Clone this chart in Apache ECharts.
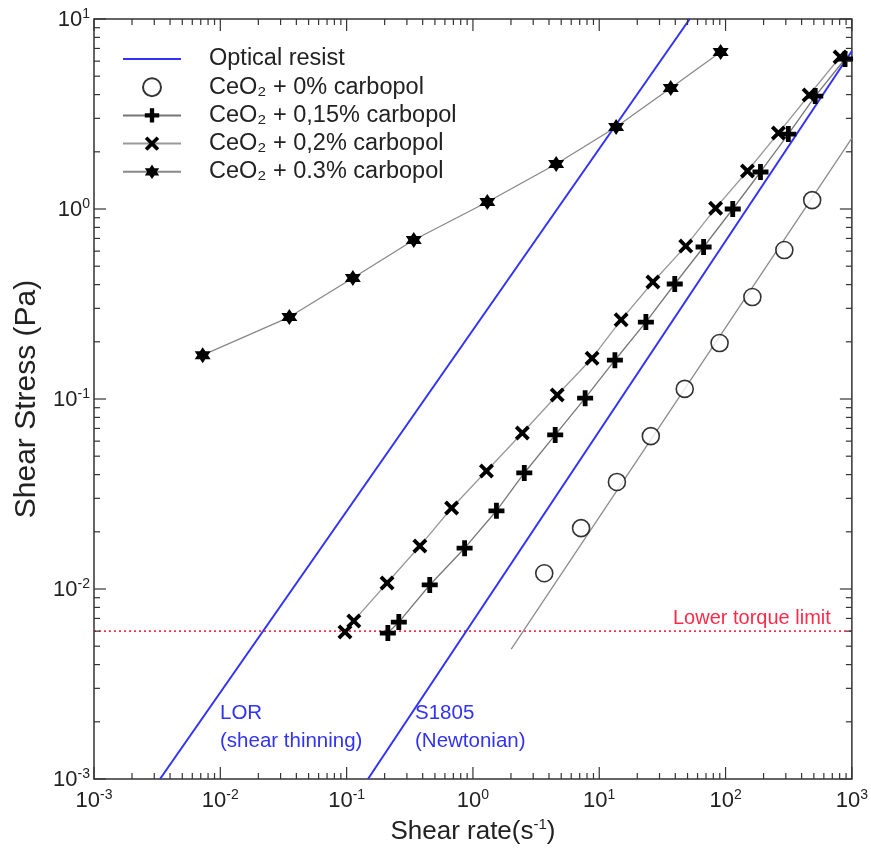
<!DOCTYPE html>
<html>
<head>
<meta charset="utf-8">
<script src="https://cdn.jsdelivr.net/npm/echarts@6/dist/echarts.min.js"></script>
<style>
html,body{margin:0;padding:0;background:#fff;}
#c{width:871px;height:852px;}
</style>
</head>
<body>
<div id="c"></div>
<script>
// ---------- data ----------
const xTickExponents = [-3, -2, -1, 0, 1, 2, 3];
const yTickExponents = [-3, -2, -1, 0, 1];

const lorX = [0.00333, 52];
const lorY = [0.001, 10];
const s1805X = [0.1476, 1000];
const s1805Y = [0.001, 6.78];

const c0X = [3.67, 7.18, 13.8, 25.6, 47.5, 89.7, 163, 292, 485];
const c0Y = [0.0121, 0.0209, 0.0366, 0.0638, 0.113, 0.197, 0.344, 0.608, 1.114];
const c0FitX = [2.01, 1000];
const c0FitY = [0.00483, 2.36];

const c015X = [0.212, 0.259, 0.455, 0.859, 1.535, 2.55, 4.48, 7.73, 13.3, 23.4, 39.6, 67.0, 114, 189, 314, 513, 883];
const c015Y = [0.00586, 0.0067, 0.0105, 0.0164, 0.0258, 0.0408, 0.0647, 0.101, 0.160, 0.254, 0.403, 0.631, 1.0, 1.566, 2.48, 3.93, 6.16];

const c02X = [0.097, 0.114, 0.209, 0.380, 0.678, 1.28, 2.46, 4.65, 8.77, 14.9, 26.6, 48.4, 83.4, 149, 262, 459, 807];
const c02Y = [0.00594, 0.00679, 0.01076, 0.01683, 0.0267, 0.0418, 0.0662, 0.105, 0.164, 0.261, 0.413, 0.638, 1.01, 1.585, 2.51, 3.98, 6.31];

const c03X = [0.00725, 0.0352, 0.112, 0.340, 1.30, 4.56, 13.6, 36.8, 91.4];
const c03Y = [0.170, 0.270, 0.433, 0.687, 1.089, 1.725, 2.70, 4.33, 6.70];

const torqueLimit = 0.006;
const torqueX = [0.001, 1000];

const legendNames = ['Optical resist', 'CeO₂ + 0% carbopol', 'CeO₂ + 0,15% carbopol', 'CeO₂ + 0,2% carbopol', 'CeO₂ + 0.3% carbopol'];

// ---------- helpers ----------
const zip = (xs, ys) => xs.map((x, i) => [x, ys[i]]);
const FONT = '"Liberation Sans", Arial, Helvetica, sans-serif';
const BLUE = '#3232f5';
const STAR = 'path://M10 0 L12.89 5 L18.66 5 L15.77 10 L18.66 15 L12.89 15 L10 20 L7.11 15 L1.34 15 L4.23 10 L1.34 5 L7.11 5 Z';
const PLUS = 'path://M7 0 H13 V7 H20 V13 H13 V20 H7 V13 H0 V7 H7 Z';
const CROSS = 'path://M0 3.6 L3.6 0 L10 6.4 L16.4 0 L20 3.6 L13.6 10 L20 16.4 L16.4 20 L10 13.6 L3.6 20 L0 16.4 L6.4 10 Z';

// tick values (major + minor) for custom tick drawing
const tickData = [];
for (let e = -3; e <= 3; e++) {
  for (let m = 1; m <= 9; m++) {
    const v = m * Math.pow(10, e);
    if (v > 1000 * 1.0001) continue;
    tickData.push([v, 1, 0, m === 1 ? 1 : 0]);
  }
}
for (let e = -3; e <= 1; e++) {
  for (let m = 1; m <= 9; m++) {
    const v = m * Math.pow(10, e);
    if (v > 10 * 1.0001) continue;
    tickData.push([1, v, 1, m === 1 ? 1 : 0]);
  }
}

const expLabel = v => {
  const e = Math.round(Math.log10(v));
  return '{b|10}{s|' + e + '}';
};
const labelRich = {
  b: { fontSize: 22, fontFamily: FONT, color: '#222', lineHeight: 24, verticalAlign: 'bottom' },
  s: { fontSize: 14, fontFamily: FONT, color: '#222', lineHeight: 24, verticalAlign: 'top', padding: [0, 0, 10, 0] }
};

const chart = echarts.init(document.getElementById('c'), null, { renderer: 'canvas' });

const lineCommon = {
  type: 'line',
  symbolSize: 16,
  showSymbol: true,
  z: 3,
  animation: false,
  itemStyle: { color: '#000', borderWidth: 0 },
  emphasis: { disabled: true }
};

chart.setOption({
  backgroundColor: '#fff',
  animation: false,
  grid: {
    left: 94, right: 16, top: 19, bottom: 73,
    show: true, borderColor: '#333', borderWidth: 1.5, backgroundColor: 'transparent'
  },
  legend: {
    data: [
      { name: legendNames[0], icon: 'path://M0 0 H58 V2 H0 Z' },
      legendNames[1], legendNames[2], legendNames[3], legendNames[4]
    ],
    orient: 'vertical',
    left: 117, top: 42,
    itemWidth: 58, itemHeight: 18, itemGap: 4.2,
    textStyle: { fontFamily: FONT, fontSize: 23.5, lineHeight: 18, color: '#222', padding: [0, 0, 0, 23] },
    selectedMode: false
  },
  xAxis: {
    type: 'log', logBase: 10, min: 0.001, max: 1000,
    name: '{t|Shear rate(s}{s|-1}{t|)}',
    nameLocation: 'middle', nameGap: 37,
    nameTextStyle: {
      rich: {
        t: { fontSize: 26, fontFamily: FONT, color: '#222', lineHeight: 28, verticalAlign: 'bottom' },
        s: { fontSize: 15, fontFamily: FONT, color: '#222', lineHeight: 28, verticalAlign: 'top', padding: [0, 0, 11, 0] }
      }
    },
    axisLine: { show: false },
    axisTick: { show: false },
    splitLine: { show: false },
    minorTick: { show: false },
    axisLabel: { margin: 9, formatter: expLabel, rich: labelRich }
  },
  yAxis: {
    type: 'log', logBase: 10, min: 0.001, max: 10,
    name: 'Shear Stress (Pa)',
    nameLocation: 'middle', nameGap: 51,
    nameTextStyle: { fontSize: 30, fontFamily: FONT, color: '#222' },
    axisLine: { show: false },
    axisTick: { show: false },
    splitLine: { show: false },
    axisLabel: { margin: 4, formatter: expLabel, rich: labelRich }
  },
  graphic: [
    { type: 'text', left: 220, top: 699, style: { text: 'LOR\n(shear thinning)', fill: BLUE, font: '20.5px ' + FONT, lineHeight: 28 } },
    { type: 'text', left: 415, top: 699, style: { text: 'S1805\n(Newtonian)', fill: BLUE, font: '20.5px ' + FONT, lineHeight: 28 } },
    { type: 'text', left: 673, top: 608, style: { text: 'Lower torque limit', fill: '#ff2a4a', font: '20px ' + FONT } }
  ],
  series: [
    {
      name: 'Optical resist', type: 'line', data: zip(lorX, lorY), showSymbol: false, symbol: 'none',
      lineStyle: { color: BLUE, width: 2 }, itemStyle: { color: BLUE }, z: 2, animation: false
    },
    {
      name: 'Optical resist', type: 'line', data: zip(s1805X, s1805Y), showSymbol: false, symbol: 'none',
      lineStyle: { color: BLUE, width: 2 }, itemStyle: { color: BLUE }, z: 2, animation: false
    },
    {
      name: 'torque', type: 'line', data: zip(torqueX, [torqueLimit, torqueLimit]), showSymbol: false, symbol: 'none',
      lineStyle: { color: '#ff3050', type: [2, 3], width: 1.6 }, z: 1, animation: false
    },
    {
      name: 'fit', type: 'line', data: zip(c0FitX, c0FitY), showSymbol: false, symbol: 'none',
      lineStyle: { color: '#8c8c8c', width: 1.3 }, z: 2, animation: false
    },
    {
      name: legendNames[1], type: 'scatter', data: zip(c0X, c0Y), symbol: 'circle', symbolSize: 17,
      itemStyle: { color: '#fff', borderColor: '#000', borderWidth: 1.6 }, z: 4, animation: false
    },
    Object.assign({}, lineCommon, {
      name: legendNames[2], data: zip(c015X, c015Y), symbol: PLUS,
      lineStyle: { color: '#777', width: 1.3 }
    }),
    Object.assign({}, lineCommon, {
      name: legendNames[3], data: zip(c02X, c02Y), symbol: CROSS, symbolSize: 15,
      lineStyle: { color: '#999', width: 1.3 }
    }),
    Object.assign({}, lineCommon, {
      name: legendNames[4], data: zip(c03X, c03Y), symbol: STAR,
      lineStyle: { color: '#888', width: 1.3 }
    }),
    {
      name: 'ticks', type: 'custom', data: tickData, silent: true, z: 5, animation: false, clip: false,
      renderItem: function (params, api) {
        const cs = params.coordSys;
        const isY = api.value(2) === 1;
        const major = api.value(3) === 1;
        const len = major ? 12 : 6;
        const style = { stroke: '#333', lineWidth: 1.2 };
        if (!isY) {
          const px = api.coord([api.value(0), 1])[0];
          return { type: 'group', children: [
            { type: 'line', shape: { x1: px, y1: cs.y + cs.height, x2: px, y2: cs.y + cs.height - len }, style: style },
            { type: 'line', shape: { x1: px, y1: cs.y, x2: px, y2: cs.y + len }, style: style }
          ] };
        } else {
          const py = api.coord([1, api.value(1)])[1];
          return { type: 'group', children: [
            { type: 'line', shape: { x1: cs.x, y1: py, x2: cs.x + len, y2: py }, style: style },
            { type: 'line', shape: { x1: cs.x + cs.width, y1: py, x2: cs.x + cs.width - len, y2: py }, style: style }
          ] };
        }
      }
    }
  ]
});
</script>
</body>
</html>
